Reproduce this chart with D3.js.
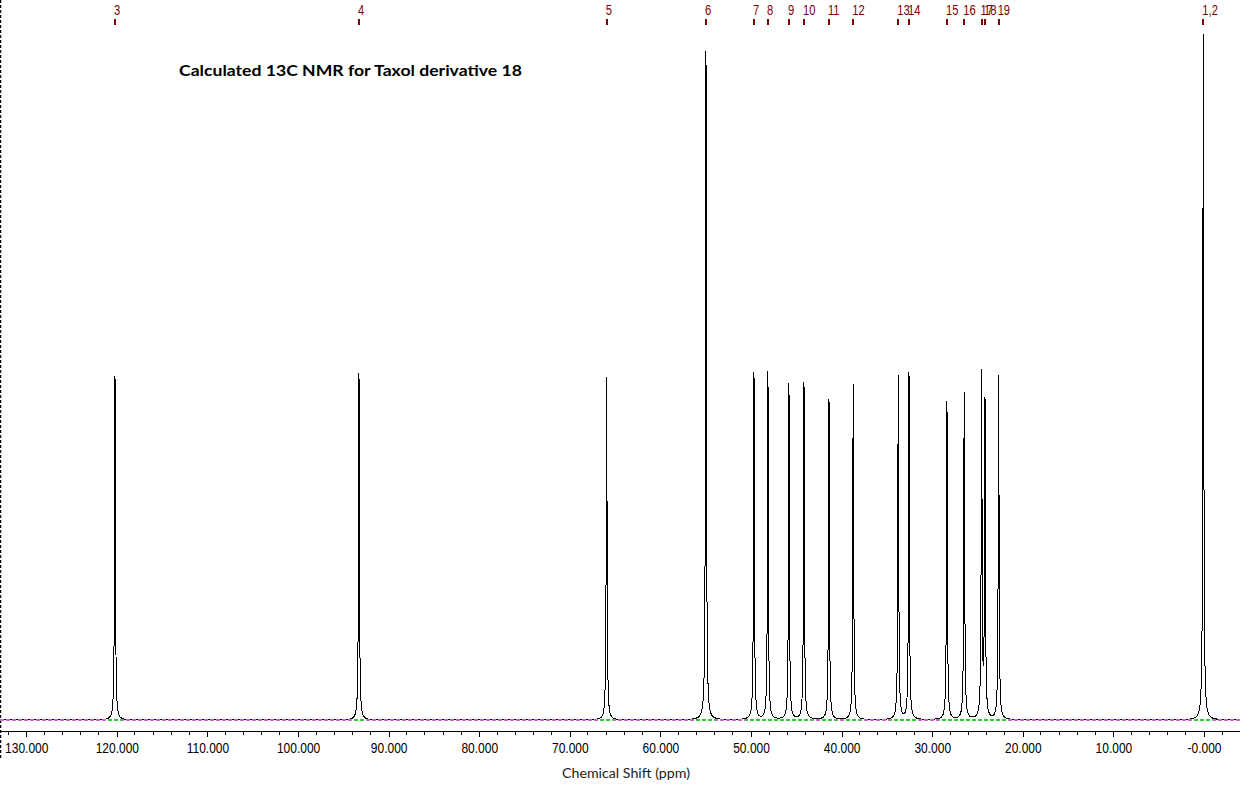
<!DOCTYPE html>
<html>
<head>
<meta charset="utf-8">
<script src="https://cdn.jsdelivr.net/npm/d3@7"></script>
<style>
  html, body { margin: 0; padding: 0; background: #fff; }
  svg { display: block; }
</style>
</head>
<body>
<svg id="chart" width="1255" height="789"></svg>
<script>
// ---- data ----
const chartTitle = "Calculated 13C NMR for Taxol derivative 18";
const axisTitle = "Chemical Shift (ppm)";
const peakLabels = ["3","4","5","6","7","8","9","10","11","12","13","14","15","16","17","18","19","1,2"];
const peakShifts = [120.21, 93.28, 65.94, 54.98, 49.68, 48.14, 45.82, 44.16, 41.40, 38.72, 33.75, 32.57, 28.38, 26.47, 24.55, 24.18, 22.67, 0.08];
const peakIntensities = [50.1, 50.6, 50.0, 97.5, 50.6, 50.7, 49.0, 49.1, 46.8, 49.0, 50.1, 50.6, 46.4, 47.7, 50.0, 45.9, 50.1, 100];
const lineWidth = 0.055; // Lorentzian half width (ppm)
const majorTicks = [130, 120, 110, 100, 90, 80, 70, 60, 50, 40, 30, 20, 10, 0];
const majorTickLabels = ["130.000","120.000","110.000","100.000","90.000","80.000","70.000","60.000","50.000","40.000","30.000","20.000","10.000","-0.000"];
const ppmDomain = [132.9, -3.97];
const intensityDomain = [0, 100];

// ---- layout ----
const svg = d3.select("#chart");
const x = d3.scaleLinear().domain(ppmDomain).range([0, 1240]);
const y = d3.scaleLinear().domain(intensityDomain).range([720, 34]);

const peaks = peakShifts.map((s, i) => ({ label: peakLabels[i], ppm: s, h: peakIntensities[i] }));
function signal(p) {
  let v = 0;
  for (const pk of peaks) {
    const d = (p - pk.ppm) / lineWidth;
    v += pk.h / (1 + d * d);
  }
  return v;
}

// sample points
let samples = [];
for (let p = ppmDomain[0]; p >= ppmDomain[1]; p -= 0.004) samples.push(p);
peaks.forEach(pk => samples.push(pk.ppm));
samples.sort((a, b) => b - a);
const spectrum = samples.map(p => ({ ppm: p, v: signal(p) }));

// left dashed border
svg.append("line")
  .attr("x1", 0.5).attr("x2", 0.5).attr("y1", 0).attr("y2", 760)
  .attr("stroke", "#000").attr("stroke-width", 1.5).attr("stroke-dasharray", "3,2");

// spectrum
const line = d3.line().x(d => x(d.ppm)).y(d => y(d.v));
svg.append("path")
  .datum(spectrum)
  .attr("d", line)
  .attr("fill", "none")
  .attr("stroke", "#000")
  .attr("stroke-width", 1)
  .attr("shape-rendering", "crispEdges");

// baseline dashed segments: green where signal rises, magenta elsewhere
const thr = 0.25;
const segs = [];
let cur = null;
spectrum.forEach(d => {
  const type = d.v > thr ? "g" : "m";
  const px = x(d.ppm);
  if (!cur || cur.type !== type) {
    if (cur) { cur.x2 = px; segs.push(cur); }
    cur = { type, x1: px, x2: px };
  } else cur.x2 = px;
});
if (cur) segs.push(cur);
const baseY = y(0);
svg.append("g").selectAll("line").data(segs).join("line")
  .attr("x1", d => d.x1).attr("x2", d => d.x2)
  .attr("y1", baseY).attr("y2", baseY)
  .attr("stroke", d => d.type === "g" ? "#33cc33" : "#cc66cc")
  .attr("stroke-width", 1.8)
  .attr("stroke-dasharray", "4,2")
  .attr("stroke-dashoffset", d => d.x1);

// bottom axis
const minorTicks = d3.range(132, -4, -2).filter(v => v % 10 !== 0);
const axisG = svg.append("g").attr("transform", "translate(0,731)");
axisG.append("line").attr("x1", 0).attr("x2", 1240).attr("y1", 0).attr("y2", 0)
  .attr("stroke", "#000").attr("stroke-width", 1).attr("shape-rendering", "crispEdges");
const axis = d3.axisBottom(x).tickValues(majorTicks)
  .tickFormat((d, i) => majorTickLabels[i]).tickSize(6).tickSizeOuter(0).tickPadding(4);
axisG.call(axis);
axisG.select(".domain").remove();
axisG.selectAll(".tick line").attr("stroke", "#000").attr("shape-rendering", "crispEdges");
axisG.selectAll(".tick text")
  .attr("font-family", "'Liberation Sans', Arial, sans-serif")
  .attr("font-size", 15)
  .attr("fill", "#000")
  .attr("y", 0).attr("dy", 0)
  .attr("transform", "translate(0,22) scale(0.8,1)");
axisG.append("g").selectAll("line").data(minorTicks).join("line")
  .attr("x1", d => x(d)).attr("x2", d => x(d)).attr("y1", 0).attr("y2", 4)
  .attr("stroke", "#000").attr("shape-rendering", "crispEdges");

// top peak labels
const topG = svg.append("g");
topG.selectAll("rect").data(peaks).join("rect")
  .attr("x", d => Math.round(x(d.ppm)) - 1).attr("y", 19)
  .attr("width", 2).attr("height", 6)
  .attr("fill", "#800000");
topG.selectAll("text").data(peaks).join("text")
  .attr("transform", d => `translate(${x(d.ppm) - 1},15) scale(0.8,1)`)
  .attr("font-family", "'Liberation Sans', Arial, sans-serif")
  .attr("font-size", 14)
  .attr("fill", "#800000")
  .text(d => d.label);

// titles
svg.append("text")
  .attr("x", 179).attr("y", 76)
  .attr("font-family", "Lato, 'Open Sans', sans-serif")
  .attr("font-weight", "bold")
  .attr("font-size", 16)
  .attr("textLength", 343)
  .attr("lengthAdjust", "spacingAndGlyphs")
  .attr("fill", "#000")
  .text(chartTitle);

svg.append("text")
  .attr("x", 562).attr("y", 778)
  .attr("font-family", "Lato, 'Open Sans', sans-serif")
  .attr("font-size", 13)
  .attr("textLength", 128)
  .attr("lengthAdjust", "spacingAndGlyphs")
  .attr("fill", "#222")
  .text(axisTitle);
</script>
</body>
</html>
